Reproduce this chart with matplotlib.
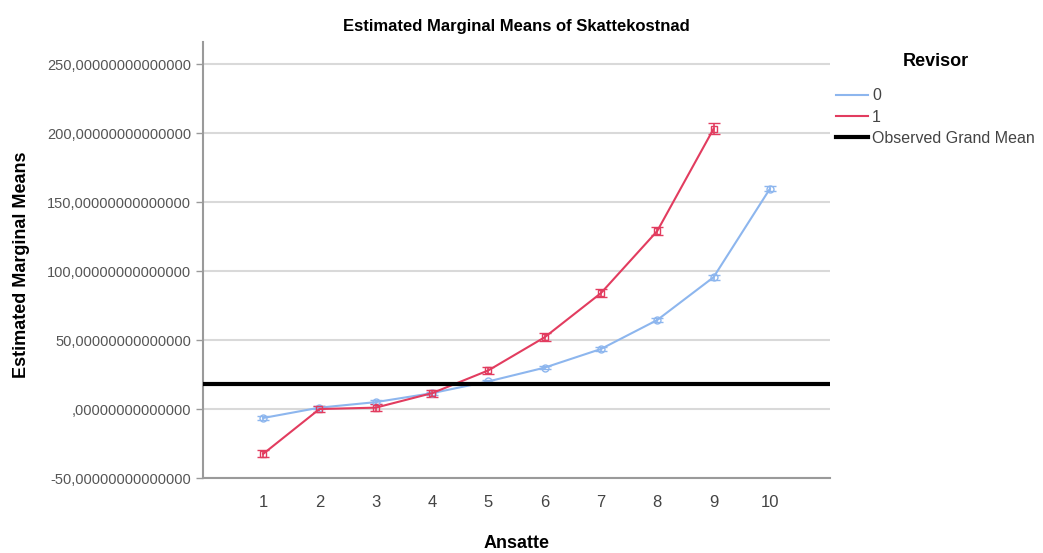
import matplotlib.pyplot as plt
from matplotlib.ticker import FuncFormatter

plt.rcParams['font.family'] = ['Liberation Sans', 'DejaVu Sans']

ansatte = [1, 2, 3, 4, 5, 6, 7, 8, 9, 10]
mean_0 = [-6.5, 1, 5, 11.5, 20, 30, 43.5, 64.5, 95.5, 159.5]
err_0 = [1.2, 1.2, 1.2, 1.2, 1.2, 1.3, 1.5, 1.5, 1.8, 1.8]
ansatte_1 = [1, 2, 3, 4, 5, 6, 7, 8, 9]
mean_1 = [-32.5, 0, 1, 11.5, 28, 52, 84, 129, 203]
err_1 = [2.5, 2.5, 2.5, 2.5, 2.8, 2.8, 3.0, 3.0, 4.0]
grand_mean = 18
yticks = [-50, 0, 50, 100, 150, 200, 250]

blue = '#8db6ee'
red = '#e23c5f'

fig = plt.figure(figsize=(10.43, 5.53), dpi=100)
ax = fig.add_axes([0.1946, 0.1356, 0.6012, 0.7884])

ax.errorbar(ansatte, mean_0, yerr=err_0, color=blue, lw=1.5, marker='o', ms=5,
            mfc='none', mec=blue, capsize=4, elinewidth=1.2, label='0', zorder=3)
ax.errorbar(ansatte_1, mean_1, yerr=err_1, color=red, lw=1.5, marker='s', ms=5,
            mfc='none', mec=red, capsize=4, elinewidth=1.2, label='1', zorder=3)
ax.axhline(grand_mean, color='black', lw=3, label='Observed Grand Mean', zorder=4)

ax.set_xlim(-0.07, 11.07)
ax.set_ylim(-50, 266)
ax.set_xticks(ansatte)
ax.set_yticks(yticks)
ax.yaxis.set_major_formatter(FuncFormatter(
    lambda v, p: ('%d' % v if v != 0 else '') + ',' + '0' * 14))
ax.grid(axis='y', color='#d9d9d9', lw=1.5)
ax.set_axisbelow(True)
for s in ['top', 'right']:
    ax.spines[s].set_visible(False)
for s in ['left', 'bottom']:
    ax.spines[s].set_color('#9a9a9a')
    ax.spines[s].set_linewidth(1.5)
ax.tick_params(axis='y', colors='#9a9a9a', labelcolor='#555555', labelsize=10.5,
               length=5, width=1)
ax.tick_params(axis='x', length=0, labelcolor='#444444', labelsize=12, pad=12)

ax.set_title('Estimated Marginal Means of Skattekostnad', fontsize=12,
             fontweight='bold', pad=8)
ax.set_xlabel('Ansatte', fontsize=13, fontweight='bold', labelpad=18)
ax.set_ylabel('Estimated Marginal Means', fontsize=13, fontweight='bold')
ax.yaxis.set_label_coords(-0.276, 0.49)

handles = [plt.Line2D([], [], color=blue, lw=1.5),
           plt.Line2D([], [], color=red, lw=1.5),
           plt.Line2D([], [], color='black', lw=3)]
leg = fig.legend(handles, ['0', '1', 'Observed Grand Mean'], title='Revisor',
                 loc='upper left', bbox_to_anchor=(0.788, 0.93), frameon=False,
                 fontsize=11.5, handlelength=2.0, handletextpad=0.25,
                 labelspacing=0.4)
leg.get_title().set_fontweight('bold')
leg.get_title().set_fontsize(13)
leg._legend_box.align = 'center'
leg._legend_box.sep = 13
for t in leg.get_texts():
    t.set_color('#444444')

fig.savefig('out.png', dpi=100)
